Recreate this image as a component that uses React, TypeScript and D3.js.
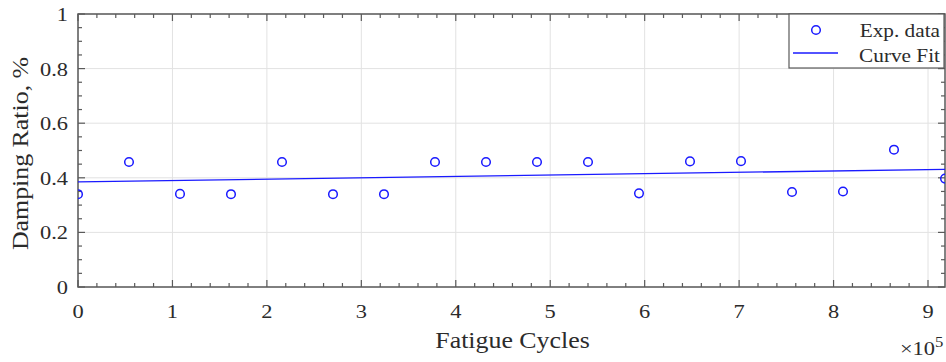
import { useEffect, useRef } from 'react';
import * as d3 from 'd3';

// experimental points (cycles, damping ratio %)
const cycles = [0, 54000, 108000, 162000, 216000, 270000, 324000, 378000, 432000, 486000, 540000, 594000, 648000, 702000, 756000, 810000, 864000, 918000];
const damping = [0.34, 0.458, 0.341, 0.34, 0.458, 0.34, 0.34, 0.458, 0.458, 0.458, 0.458, 0.343, 0.46, 0.461, 0.348, 0.35, 0.503, 0.397];

// linear fit endpoints
const fitCycles = [0, 918000];
const fitDamping = [0.385, 0.431];

const xTicks = [0, 100000, 200000, 300000, 400000, 500000, 600000, 700000, 800000, 900000];
const yTicks = [0, 0.2, 0.4, 0.6, 0.8, 1];
const legendLabels = ['Exp. data', 'Curve Fit'];

const W = 946;
const H = 362;

export default function App() {
  const svgRef = useRef<SVGSVGElement | null>(null);

  useEffect(() => {
    if (!svgRef.current) return;
    const margin = { top: 14, right: 1, bottom: 75, left: 78 };
    const width = W - margin.left - margin.right;
    const height = H - margin.top - margin.bottom;
    const font = "'Liberation Serif', 'Times New Roman', serif";
    const axisColor = '#5a5a5a';
    const textColor = '#2b2b2b';
    const blue = '#1a1aff';
    const stretch = 1.15; // the original font runs a bit wider than Liberation Serif

    const root = d3.select(svgRef.current);
    root.selectAll('*').remove();
    root.append('rect').attr('width', W).attr('height', H).attr('fill', '#fff');

    const g = root.append('g').attr('transform', `translate(${margin.left},${margin.top})`);

    const x = d3.scaleLinear().domain([0, 918000]).range([0, width]);
    const y = d3.scaleLinear().domain([0, 1]).range([height, 0]);

    const label = (parent: any, tx: number, ty: number, txt: string, size: number, anchor: string, rot = 0) =>
      parent.append('text')
        .attr('transform', `translate(${tx},${ty})${rot ? ` rotate(${rot})` : ''} scale(${stretch},1)`)
        .attr('text-anchor', anchor)
        .attr('font-family', font).attr('font-size', size).attr('fill', textColor)
        .text(txt);

    // grid
    g.selectAll('.gx').data(xTicks).enter().append('line')
      .attr('x1', d => x(d)).attr('x2', d => x(d))
      .attr('y1', 0).attr('y2', height)
      .attr('stroke', '#e2e2e2').attr('stroke-width', 1);
    g.selectAll('.gy').data(yTicks).enter().append('line')
      .attr('x1', 0).attr('x2', width)
      .attr('y1', d => y(d)).attr('y2', d => y(d))
      .attr('stroke', '#e2e2e2').attr('stroke-width', 1);

    // ticks (inward, all four sides)
    const xMinor = d3.range(0, 920000, 20000);
    const yMinor = d3.range(0, 1.0001, 0.05);
    const isMajorX = (d: number) => Math.abs(d / 100000 - Math.round(d / 100000)) < 1e-6;
    const isMajorY = (d: number) => Math.abs(d / 0.2 - Math.round(d / 0.2)) < 1e-6;

    xMinor.forEach(d => {
      const len = isMajorX(d) ? 7 : 4;
      g.append('line').attr('x1', x(d)).attr('x2', x(d)).attr('y1', height).attr('y2', height - len)
        .attr('stroke', axisColor).attr('stroke-width', 1.2);
      g.append('line').attr('x1', x(d)).attr('x2', x(d)).attr('y1', 0).attr('y2', len)
        .attr('stroke', axisColor).attr('stroke-width', 1.2);
    });
    yMinor.forEach(d => {
      const len = isMajorY(d) ? 7 : 4;
      g.append('line').attr('x1', 0).attr('x2', len).attr('y1', y(d)).attr('y2', y(d))
        .attr('stroke', axisColor).attr('stroke-width', 1.2);
      g.append('line').attr('x1', width).attr('x2', width - len).attr('y1', y(d)).attr('y2', y(d))
        .attr('stroke', axisColor).attr('stroke-width', 1.2);
    });

    // data
    const clip = root.append('clipPath').attr('id', 'plotclip');
    clip.append('rect').attr('x', margin.left).attr('y', margin.top).attr('width', width).attr('height', height);

    const plot = root.append('g').attr('clip-path', 'url(#plotclip)')
      .append('g').attr('transform', `translate(${margin.left},${margin.top})`);

    const line = d3.line<number>()
      .x((d, i) => x(fitCycles[i]))
      .y(d => y(d));
    plot.append('path')
      .datum(fitDamping)
      .attr('d', line)
      .attr('fill', 'none')
      .attr('stroke', blue)
      .attr('stroke-width', 1.3);

    plot.selectAll('.pt').data(damping).enter().append('circle')
      .attr('cx', (d, i) => x(cycles[i]))
      .attr('cy', d => y(d))
      .attr('r', 4.3)
      .attr('fill', 'none')
      .attr('stroke', blue)
      .attr('stroke-width', 1.5);

    // box
    g.append('rect').attr('x', 0).attr('y', 0).attr('width', width).attr('height', height)
      .attr('fill', 'none').attr('stroke', axisColor).attr('stroke-width', 1.5);

    // tick labels
    xTicks.forEach(d => label(g, x(d), height + 31, String(Math.round(d / 100000)), 19.5, 'middle'));
    yTicks.forEach(d => label(g, -10, y(d) + 7, String(+d.toFixed(1)), 19.5, 'end'));

    // axis titles
    label(g, width / 2 + 1, height + 61, 'Fatigue Cycles', 22.5, 'middle');
    label(g, -50, height / 2 + 3, 'Damping Ratio, %', 22.5, 'middle', -90);

    // exponent
    label(g, width - 10, height + 68, '×10', 19.5, 'end');
    label(g, width - 10, height + 60, '5', 14.5, 'start');

    // legend
    const lg = root.append('g').attr('transform', 'translate(789,14)');
    lg.append('rect').attr('width', 155).attr('height', 54)
      .attr('fill', '#fff').attr('stroke', axisColor).attr('stroke-width', 1.2);
    lg.append('circle').attr('cx', 27).attr('cy', 16).attr('r', 4.3)
      .attr('fill', 'none').attr('stroke', blue).attr('stroke-width', 1.5);
    lg.append('line').attr('x1', 4).attr('x2', 49).attr('y1', 39).attr('y2', 39)
      .attr('stroke', blue).attr('stroke-width', 1.3);
    legendLabels.forEach((d, i) => label(lg, 151, 23 + i * 24.5, d, 18.5, 'end'));
  }, []);

  return (
    <svg
      ref={svgRef}
      width={W}
      height={H}
      style={{ position: 'absolute', left: 0, top: 0 }}
    />
  );
}
